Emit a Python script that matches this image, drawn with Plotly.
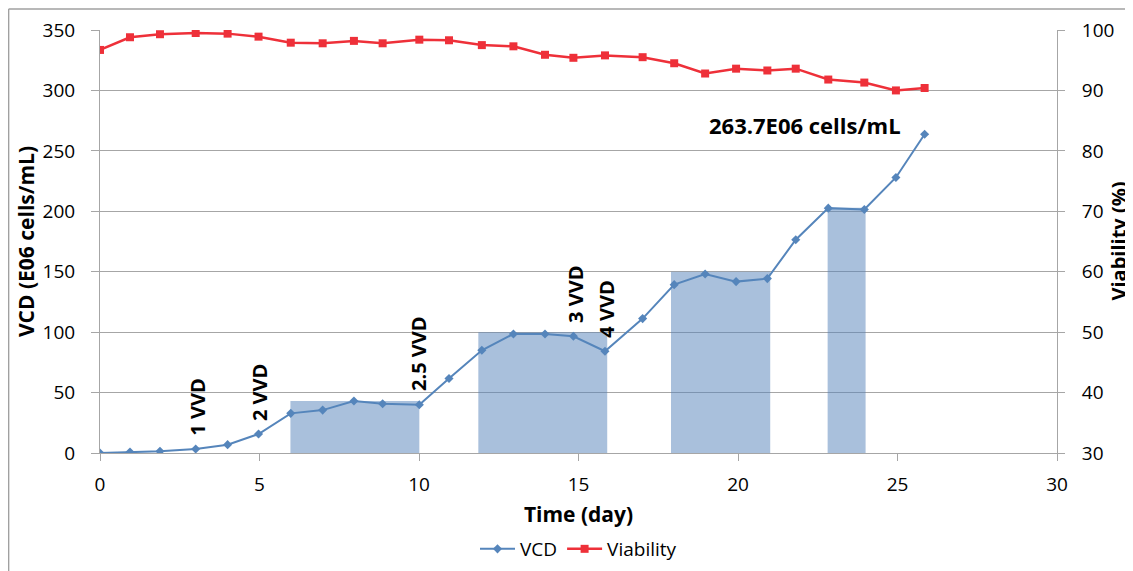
import plotly.graph_objects as go

# ---- data ----
days = [0, 0.94, 1.88, 3.0, 4.0, 4.97, 5.98, 6.98, 7.96, 8.86, 10.01, 10.94, 11.97, 12.96,
        13.95, 14.84, 15.83, 17.01, 18.0, 18.97, 19.94, 20.92, 21.81, 22.83, 23.96, 24.95, 25.85]
vcd = [0, 0.8, 1.4, 3.3, 6.9, 15.7, 32.8, 35.5, 43.0, 40.7, 39.9, 61.7, 85.0, 98.5,
       98.5, 96.6, 84.2, 111.2, 139.3, 148.1, 141.8, 144.3, 176.5, 202.6, 201.5, 228.0, 263.7]
viability = [96.7, 98.8, 99.3, 99.5, 99.4, 98.9, 97.9, 97.8, 98.2, 97.8, 98.4, 98.3, 97.5, 97.3,
             95.9, 95.4, 95.8, 95.5, 94.5, 92.8, 93.6, 93.3, 93.6, 91.8, 91.3, 90.0, 90.4]

feed_start = [5.97, 11.86, 17.9, 22.81]
feed_end = [10.01, 15.9, 21.01, 24.0]
feed_level = [43, 100, 150, 203]

vvd_labels = ["1 VVD", "2 VVD", "2.5 VVD", "3 VVD", "4 VVD"]
vvd_days = [3.03, 5.0, 10.0, 14.9, 15.88]
vvd_levels = [38, 50, 82, 131, 119]

final_label = "263.7E06 cells/mL"

x_ticks = [0, 5, 10, 15, 20, 25, 30]

FONT = "Open Sans"
GRID = "#a6a6a6"

fig = go.Figure()

fig.add_trace(go.Bar(
    x=[(s + e) / 2 for s, e in zip(feed_start, feed_end)],
    y=feed_level,
    width=[e - s for s, e in zip(feed_start, feed_end)],
    marker=dict(color="rgba(84,129,186,0.5)", line=dict(width=0)),
    showlegend=False, hoverinfo="skip", yaxis="y",
))

fig.add_trace(go.Scatter(
    x=days, y=vcd, name="VCD", mode="lines+markers",
    line=dict(color="#5585BB", width=2),
    marker=dict(symbol="diamond", size=7, color="#5585BB"),
    yaxis="y",
))

fig.add_trace(go.Scatter(
    x=days, y=viability, name="Viability", mode="lines+markers",
    line=dict(color="#EE3039", width=2.5),
    marker=dict(symbol="square", size=8, color="#EE3039"),
    yaxis="y2",
))

annotations = []
for t, d, lv in zip(vvd_labels, vvd_days, vvd_levels):
    annotations.append(dict(x=d, y=lv, xref="x", yref="y", text=t, textangle=-90,
                            showarrow=False, font=dict(family=FONT, size=20, color="black", weight="bold")))
annotations.append(dict(x=22.1, y=271, xref="x", yref="y", text=final_label, showarrow=False,
                        font=dict(family=FONT, size=22, color="black", weight="bold")))
annotations.append(dict(x=1, y=0.5, xref="paper", yref="paper", xshift=61, text="<b>Viability (%)</b>",
                        textangle=-90, showarrow=False, xanchor="center", yanchor="middle",
                        font=dict(family=FONT, size=20, color="black")))

fig.update_layout(
    width=1133, height=571,
    paper_bgcolor="white", plot_bgcolor="white",
    margin=dict(l=92, r=84, t=22, b=125),
    font=dict(family=FONT, size=19, color="black"),
    barmode="overlay",
    xaxis=dict(range=[0, 30], tickvals=x_ticks, showgrid=False, zeroline=False,
               showline=True, linecolor=GRID, linewidth=1, automargin=False,
               ticks="outside", ticklen=7, tickcolor=GRID, ticklabelstandoff=7,
               tickfont=dict(size=19),
               title=dict(text="<b>Time (day)</b>", font=dict(size=21), standoff=11)),
    yaxis=dict(range=[0, 350], dtick=50, showgrid=True, gridcolor=GRID, gridwidth=1,
               zeroline=False, showline=True, linecolor=GRID, linewidth=1, automargin=False,
               ticks="outside", ticklen=8, tickcolor=GRID, tickfont=dict(size=19),
               ticklabelstandoff=12,
               title=dict(text="<b>VCD (E06 cells/mL)</b>", font=dict(size=21), standoff=2)),
    yaxis2=dict(range=[30, 100], dtick=10, overlaying="y", side="right", showgrid=False,
                zeroline=False, showline=True, linecolor=GRID, linewidth=1, automargin=False,
                ticks="outside", ticklen=7, tickcolor=GRID, tickfont=dict(size=19),
                ticklabelstandoff=13),
    legend=dict(orientation="h", x=0.5, xanchor="center", y=-0.224, yanchor="middle",
                font=dict(size=19), itemwidth=35, tracegroupgap=0),
    annotations=annotations,
    shapes=[
        dict(type="line", xref="paper", yref="paper", x0=-0.0955, x1=1.1, y0=1.0495, y1=1.0495,
             line=dict(color="#a0a0a0", width=1.5)),
        dict(type="line", xref="paper", yref="paper", x0=-0.0955, x1=-0.0955, y0=-0.3, y1=1.0495,
             line=dict(color="#a0a0a0", width=1.5)),
    ],
)

fig.write_html("out.html")
